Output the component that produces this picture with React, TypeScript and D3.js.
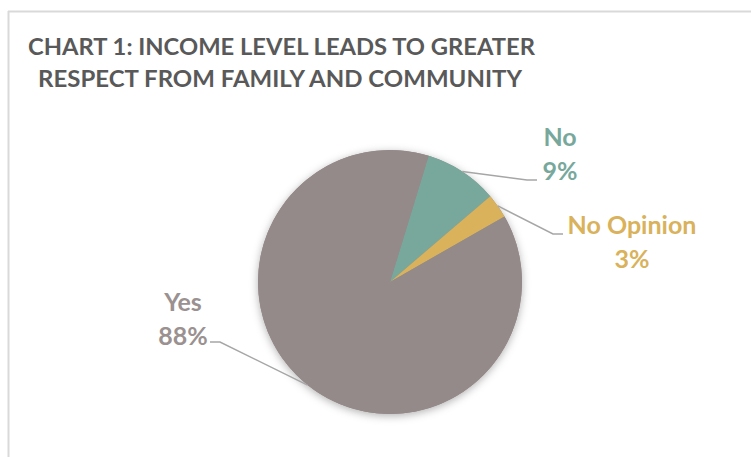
import React from "react";
import * as d3 from "d3";

const categories = ["No", "No Opinion", "Yes"];
const values = [9, 3, 88];
const labels = ["9%", "3%", "88%"];
const colors = ["#78a89c", "#d9b25b", "#948a89"];
const labelColors = ["#78a89c", "#d9b25b", "#9a9190"];
const titleLines = ["CHART 1: INCOME LEVEL LEADS TO GREATER", "RESPECT FROM FAMILY AND COMMUNITY"];

const W = 751, H = 457;
const cx = 390, cy = 282, R = 132;
const startA = 0.297;

// label layout: [textX, firstBaseline, elbow points]
const labelLayout = [
  { x: 560, y: 146, anchor: "middle", elbow: [[527, 180], [537, 180]] },
  { x: 632, y: 234, anchor: "middle", elbow: [[553, 234], [563, 234]] },
  { x: 183, y: 311, anchor: "middle", elbow: [[220, 342], [210, 342]] },
];

export default function App() {
  const pie = d3.pie<number>().sort(null).startAngle(startA).endAngle(startA + 2 * Math.PI);
  const arcs = pie(values);
  const arc = d3.arc<d3.PieArcDatum<number>>().innerRadius(0).outerRadius(R);
  const edge = d3.arc<d3.PieArcDatum<number>>().innerRadius(R).outerRadius(R);
  const line = d3.line();
  return (
    <svg width={W} height={H} style={{ position: "absolute", left: 0, top: 0, background: "#fff" }}>
      <defs>
        <filter id="sh" x="-20%" y="-20%" width="140%" height="140%">
          <feDropShadow dx="0" dy="2" stdDeviation="4" floodColor="#000" floodOpacity="0.3" />
        </filter>
      </defs>
      <line x1={8} y1={11.5} x2={W} y2={11.5} stroke="#d9d9d9" strokeWidth={2} />
      <line x1={8.5} y1={11} x2={8.5} y2={H} stroke="#d9d9d9" strokeWidth={2} />
      <g fontFamily="Lato, 'Open Sans', sans-serif" fontWeight="bold" fill="#595959" fontSize={23}>
        <text x={28} y={55} textLength={507} lengthAdjust="spacingAndGlyphs">{titleLines[0]}</text>
        <text x={38} y={87} textLength={484} lengthAdjust="spacingAndGlyphs">{titleLines[1]}</text>
      </g>
      <g transform={`translate(${cx},${cy})`}>
        <circle r={R} fill="#948a89" filter="url(#sh)" />
        {arcs.map((a, i) => (
          <path key={categories[i]} d={arc(a) || ""} fill={colors[i]} />
        ))}
      </g>
      {arcs.map((a, i) => {
        const c = edge.centroid(a);
        const pts: [number, number][] = [[cx + c[0], cy + c[1]], ...(labelLayout[i].elbow as [number, number][])];
        return (
          <path key={"l" + i} d={line(pts) || ""} fill="none" stroke="#a6a6a6" strokeWidth={1.5} />
        );
      })}
      <g fontFamily="Lato, 'Open Sans', sans-serif" fontWeight="bold" fontSize={25}>
        {arcs.map((a, i) => (
          <text key={"t" + i} x={labelLayout[i].x} y={labelLayout[i].y} textAnchor={labelLayout[i].anchor as any} fill={labelColors[i]}>
            <tspan x={labelLayout[i].x}>{categories[i]}</tspan>
            <tspan x={labelLayout[i].x} dy={34}>{labels[i]}</tspan>
          </text>
        ))}
      </g>
    </svg>
  );
}
